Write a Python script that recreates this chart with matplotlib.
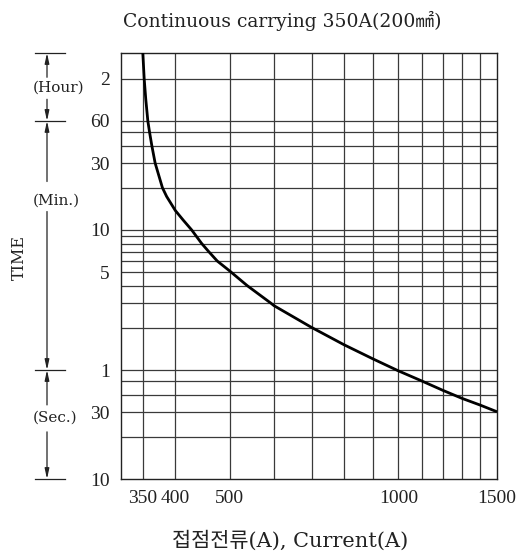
import matplotlib
matplotlib.use("Agg")
import matplotlib.pyplot as plt
from matplotlib import transforms

SERIF = ['DejaVu Serif', 'Noto Sans CJK KR', 'DejaVu Sans']
NUM = ['Liberation Serif', 'DejaVu Serif']
plt.rcParams['font.family'] = SERIF

# Data (current in A, time in seconds)
current = [350, 352, 354.3, 357.3, 359.8, 363.2, 368.2, 379.4, 386.0, 400, 413.1, 427.8, 445.8,
           458.9, 475.2, 500, 537.6, 592.4, 600, 700, 800, 900, 1000, 1100, 1200, 1300, 1400, 1500]
time_s = [11000, 7200, 5140, 3600, 3000, 2400, 1800, 1200, 1040, 826, 706, 600, 480,
          420, 360, 306, 240, 180, 172.8, 120.9, 90.9, 72.2, 59.2, 50.2, 43.0, 37.6, 33.7, 30.2]

x_ticks = [350, 400, 500, 1000, 1500]
x_ticklabels = ['350', '400', '500', '1000', '1500']
x_grid = [350, 400, 500, 600, 700, 800, 900, 1000, 1100, 1200, 1300, 1400]
y_ticks = [10, 30, 60, 300, 600, 1800, 3600, 7200]
y_ticklabels = ['10', '30', '1', '5', '10', '30', '60', '2']
y_grid = [20, 30, 40, 50, 60, 120, 180, 240, 300, 360, 420, 480, 540, 600,
          1200, 1800, 2400, 3000, 3600, 7200]

title = 'Continuous carrying 350A(200㎟)'
xlabel = '접점전류(A), Current(A)'
ylabel = 'TIME'

W, H = 524, 558
fig = plt.figure(figsize=(W / 100, H / 100), dpi=100)
ax = fig.add_axes([121 / W, 1 - 479 / H, (497 - 121) / W, (479 - 53) / H])
ax.set_xscale('log')
ax.set_yscale('log')
ax.set_xlim(320, 1500)
ax.set_ylim(10, 11000)

gc = '#3a3a3a'
for xv in x_grid:
    ax.axvline(xv, color=gc, lw=0.9, zorder=1)
for yv in y_grid:
    ax.axhline(yv, color=gc, lw=0.9, zorder=1)

ax.plot(current, time_s, color='black', lw=2.0, zorder=3, solid_capstyle='butt',
        solid_joinstyle='round')

ax.minorticks_off()
ax.set_xticks(x_ticks)
ax.set_xticklabels(x_ticklabels, family=NUM)
ax.set_yticks(y_ticks)
ax.set_yticklabels(y_ticklabels, family=NUM)
ax.tick_params(length=0, labelsize=14, pad=8, colors='#222222')
ax.tick_params(axis='y', pad=8)
for s in ax.spines.values():
    s.set_color('#222222')
    s.set_linewidth(1.0)

fig.text(282 / W, 1 - 21 / H, title, ha='center', va='center', fontsize=13.5, color='#222222')
fig.text(290 / W, 1 - 541 / H, xlabel, ha='center', va='center', fontsize=15, color='#222222')
fig.text(19 / W, 1 - 257 / H, ylabel, ha='center', va='center', rotation=90, fontsize=11.5,
         color='#222222')

# Left-hand range annotations
tr = transforms.blended_transform_factory(fig.transFigure, ax.transData)
xa = 47 / W
for yv in [11000, 3600, 60, 10]:
    ax.plot([35 / W, 65 / W], [yv, yv], transform=tr, color='#222222', lw=0.9, clip_on=False)

arrow_kw = dict(arrowstyle='-|>,head_length=0.6,head_width=0.13', color='#222222', lw=0.9,
                shrinkA=0, shrinkB=0)
segments = [(7380, 11000), (5140, 3600), (1330, 3600), (812, 60), (33.8, 60), (21.7, 10)]
for y0, y1 in segments:
    ax.annotate('', xy=(xa, y1), xytext=(xa, y0), xycoords=tr, textcoords=tr,
                arrowprops=arrow_kw, annotation_clip=False)

for txt, yv in [('(Hour)', 6200), ('(Min.)', 973), ('(Sec.)', 27.3)]:
    ax.text(33 / W, yv, txt, transform=tr, ha='left', va='center', fontsize=11, color='#222222')

fig.savefig('out.png', dpi=100, facecolor='white')
